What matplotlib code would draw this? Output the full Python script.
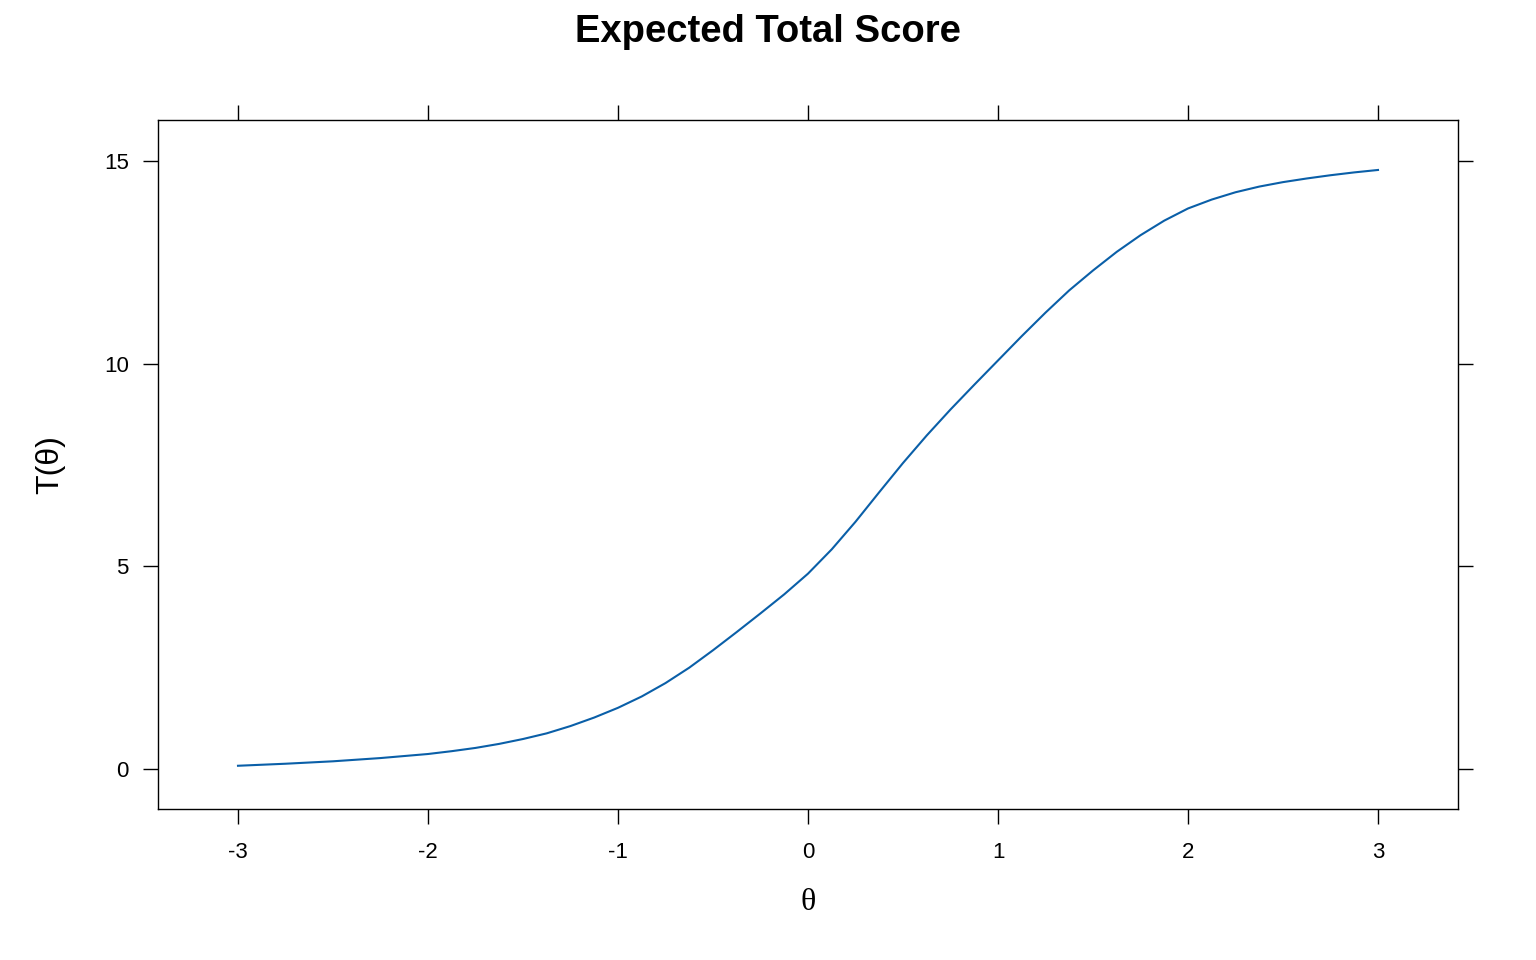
import matplotlib
matplotlib.use("Agg")
import matplotlib.pyplot as plt

# expected total score
theta = [-3.0, -2.75, -2.5, -2.25, -2.0, -1.875, -1.75, -1.625, -1.5, -1.375, -1.25, -1.125,
         -1.0, -0.875, -0.75, -0.625, -0.5, -0.375, -0.25, -0.125,
         0.0, 0.125, 0.25, 0.375, 0.5, 0.625, 0.75, 0.875,
         1.0, 1.125, 1.25, 1.375, 1.5, 1.625, 1.75, 1.875,
         2.0, 2.125, 2.25, 2.375, 2.5, 2.625, 2.75, 2.875, 3.0]
score = [0.08, 0.13, 0.19, 0.27, 0.37, 0.44, 0.52, 0.62, 0.74, 0.88, 1.06, 1.27,
         1.51, 1.79, 2.12, 2.5, 2.93, 3.38, 3.84, 4.31,
         4.82, 5.42, 6.1, 6.83, 7.55, 8.23, 8.87, 9.48,
         10.08, 10.68, 11.26, 11.81, 12.3, 12.76, 13.17, 13.53,
         13.83, 14.05, 14.23, 14.37, 14.48, 14.57, 14.65, 14.72, 14.78]
xticks = [-3, -2, -1, 0, 1, 2, 3]
yticks = [0, 5, 10, 15]

plt.rcParams['font.family'] = ['Liberation Sans', 'DejaVu Sans']
plt.rcParams['axes.unicode_minus'] = False

fig = plt.figure(figsize=(15.36, 9.6), dpi=100)
ax = fig.add_axes([158/1536, 1 - 809/960, 1300/1536, 689/960])

ax.plot(theta, score, color='#0a5fa8', lw=1.5)

ax.set_xlim(-3 - 80/190, 3 + 80/190)
ax.set_ylim(-40/40.53, (769 - 120)/40.53)
ax.set_xticks(xticks)
ax.set_yticks(yticks)
ax.tick_params(direction='out', length=11, width=1, labelsize=16, pad=10,
               top=True, right=True, labeltop=False, labelright=False)
ax.tick_params(axis='x', pad=13)
for s in ax.spines.values():
    s.set_linewidth(1)

ax.set_xlabel('θ', family=['Liberation Serif'], fontsize=23, labelpad=18)
ax.set_ylabel('T(θ)', fontsize=23, labelpad=28)
fig.text(0.5, 1 - 32/960, 'Expected Total Score', ha='center', va='center',
         fontsize=27.5, fontweight='bold')

fig.savefig('out.png', dpi=100)
